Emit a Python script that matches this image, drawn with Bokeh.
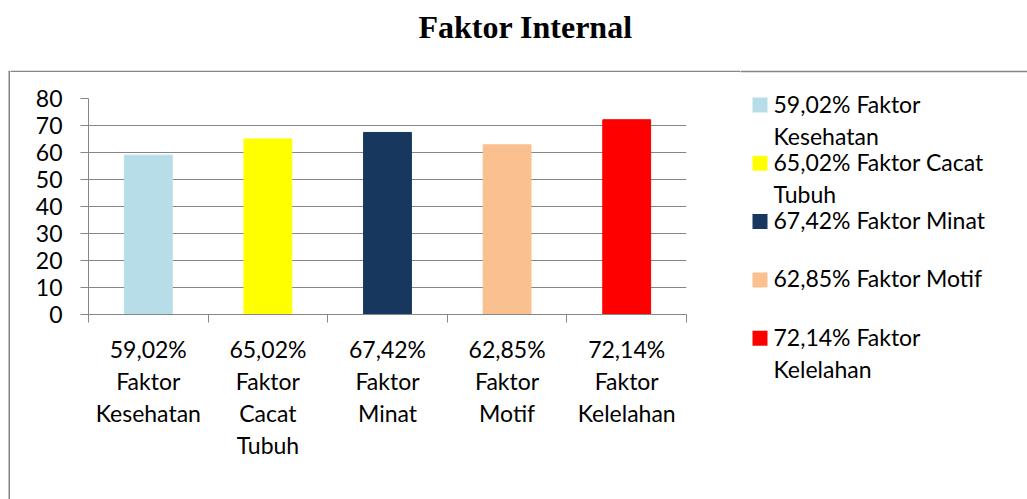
from bokeh.plotting import figure
from bokeh.layouts import column, row
from bokeh.models import Range1d, FixedTicker, Label, ColumnDataSource
from bokeh.core.properties import value
from bokeh.embed import file_html
from bokeh.resources import INLINE

title_text = "Faktor Internal"
category_labels = [
    "59,02%\nFaktor\nKesehatan",
    "65,02%\nFaktor\nCacat\nTubuh",
    "67,42%\nFaktor\nMinat",
    "62,85%\nFaktor\nMotif",
    "72,14%\nFaktor\nKelelahan",
]
values = [59.02, 65.02, 67.42, 62.85, 72.14]
colors = ["#B7DDE8", "#FFFF00", "#17375E", "#FAC090", "#FF0000"]
legend_lines = [
    ["59,02% Faktor", "Kesehatan"],
    ["65,02% Faktor Cacat", "Tubuh"],
    ["67,42% Faktor Minat"],
    ["62,85% Faktor Motif"],
    ["72,14% Faktor", "Kelelahan"],
]
y_ticks = [0, 10, 20, 30, 40, 50, 60, 70, 80]

FONT = "Lato"
FS = "23px"
GRAY = "#868686"
W, H = 1027, 499
TOP_H = 72          # height of the title strip
LEFT_W = 10         # strip holding the left border line
MAIN_W = 730
LEG_W = W - LEFT_W - MAIN_W
BODY_H = H - TOP_H
BOX_TOP = 71


def blank(width, height, xr, yr):
    f = figure(width=width, height=height, output_backend="svg", toolbar_location=None,
               x_range=xr, y_range=yr, x_axis_type=None, y_axis_type=None, min_border=0)
    f.outline_line_color = None
    f.background_fill_color = "white"
    f.border_fill_color = "white"
    f.grid.visible = False
    return f


# ---- left strip: left border line of the chart box (full height)
left = blank(LEFT_W, H, Range1d(0, LEFT_W), Range1d(H, 0))
left.segment(x0=[8.75], y0=[BOX_TOP], x1=[8.75], y1=[H + 2], line_color=GRAY, line_width=1.5)
left.segment(x0=[8], y0=[BOX_TOP], x1=[LEFT_W + 1], y1=[BOX_TOP], line_color=GRAY, line_width=1.5)

# ---- title strip
top = blank(MAIN_W, TOP_H, Range1d(0, MAIN_W), Range1d(TOP_H, 0))
top.add_layout(Label(x=525 - LEFT_W, y=26, text=title_text, text_font="Liberation Serif",
                     text_font_style="bold", text_font_size="32px", text_align="center",
                     text_baseline="alphabetic", text_color="black"))
top.segment(x0=[-1], y0=[BOX_TOP], x1=[MAIN_W + 1], y1=[BOX_TOP], line_color=GRAY, line_width=1.5)

# ---- main bar chart
xs = [i + 0.5 for i in range(len(values))]
src = ColumnDataSource(dict(x=xs, top=values, color=colors))

FR_LEFT, FR_W, FR_TOP, FR_H = 78, 598, 26, 216
p = figure(width=MAIN_W, height=BODY_H, output_backend="svg", toolbar_location=None,
           x_range=Range1d(0, len(values)), y_range=Range1d(0, 80),
           min_border_left=FR_LEFT, min_border_right=MAIN_W - FR_LEFT - FR_W,
           min_border_top=FR_TOP, min_border_bottom=BODY_H - FR_TOP - FR_H)
p.outline_line_color = None
p.background_fill_color = "white"
p.border_fill_color = "white"

p.vbar(x="x", top="top", bottom=0, width=0.4, color="color", source=src)

p.yaxis.ticker = FixedTicker(ticks=y_ticks)
p.yaxis.axis_line_color = GRAY
p.yaxis.major_tick_line_color = GRAY
p.yaxis.major_tick_out = 8
p.yaxis.major_tick_in = 0
p.yaxis.minor_tick_line_color = None
p.yaxis.major_label_text_font = FONT
p.yaxis.major_label_text_font_size = FS
p.yaxis.major_label_text_color = "black"
p.yaxis.major_label_standoff = 18

p.xaxis.ticker = FixedTicker(ticks=xs, minor_ticks=list(range(len(values) + 1)))
p.xaxis.major_label_overrides = {x: lab for x, lab in zip(xs, category_labels)}
p.xaxis.axis_line_color = GRAY
p.xaxis.major_tick_line_color = None
p.xaxis.minor_tick_line_color = GRAY
p.xaxis.minor_tick_out = 8
p.xaxis.minor_tick_in = 0
p.xaxis.major_label_text_font = FONT
p.xaxis.major_label_text_font_size = FS
p.xaxis.major_label_text_color = "black"
p.xaxis.major_label_text_line_height = 1.15
p.xaxis.major_label_standoff = 12

p.xgrid.grid_line_color = None
p.ygrid.grid_line_color = GRAY
p.ygrid.grid_line_width = 1

# ---- legend panel (full height, page coordinates relative to its left edge)
leg = blank(LEG_W, H, Range1d(0, LEG_W), Range1d(H, 0))
leg.segment(x0=[-1], y0=[BOX_TOP], x1=[LEG_W + 1], y1=[BOX_TOP], line_color=GRAY, line_width=1.5)
first_base = 112
step = 58.3
TEXT_SHIFT = -9
sq_x, sq_y, sq_c = [], [], []
tx, ty, tt = [], [], []
for i, (lines, c) in enumerate(zip(legend_lines, colors)):
    base = first_base + step * i
    sq_x.append(19.5)
    sq_y.append(base - 7.5)
    sq_c.append(c)
    for j, t in enumerate(lines):
        tx.append(33)
        ty.append(base + TEXT_SHIFT + 32 * j)
        tt.append(t)
leg.scatter(x=sq_x, y=sq_y, marker="square", size=15, fill_color=sq_c, line_color=None)
leg.text(x=tx, y=ty, text=tt, text_font=value(FONT), text_font_size=value(FS),
         text_align="left", text_baseline="alphabetic", text_color="black")

layout = row(left, column(top, row(p)), leg)
open("out.html", "w").write(file_html(layout, INLINE))
